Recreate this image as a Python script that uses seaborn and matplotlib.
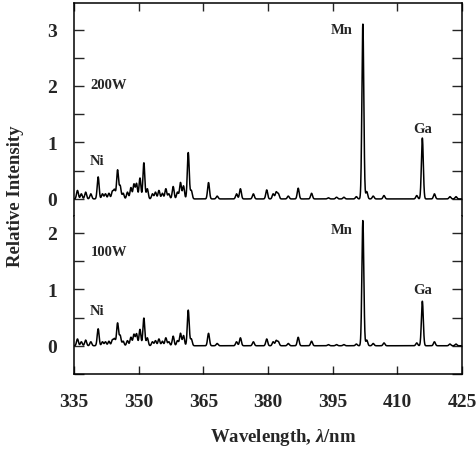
import numpy as np
import pandas as pd
import matplotlib
matplotlib.use("Agg")
import matplotlib.pyplot as plt
from matplotlib.ticker import MultipleLocator
import seaborn as sns

# emission lines (nm) and their relative heights
lines_nm = [335.8, 336.7, 337.7, 338.9, 340.6, 341.6, 342.3, 343.1, 343.9, 344.4,
            345.1, 345.7, 346.4, 347.4, 348.2, 348.9, 349.5, 350.3, 351.2, 352.0,
            353.2, 353.9, 354.7, 355.5, 356.3, 357.0, 358.0, 359.0, 359.7, 360.4,
            361.5, 362.2, 366.2, 368.2, 372.7, 373.6, 376.6, 379.7, 381.2, 381.9,
            382.4, 384.7, 387.0, 390.1, 394.0, 395.9, 397.6, 400.5, 402.0, 402.9,
            404.4, 406.9, 414.5, 415.8, 418.6, 422.2, 423.6]

heights_200w = [0.15, 0.09, 0.12, 0.09, 0.39, 0.09, 0.09, 0.10, 0.13, 0.16,
                0.51, 0.23, 0.10, 0.12, 0.20, 0.26, 0.27, 0.37, 0.64, 0.18,
                0.09, 0.12, 0.15, 0.10, 0.18, 0.09, 0.22, 0.12, 0.29, 0.23,
                0.82, 0.15, 0.29, 0.05, 0.09, 0.18, 0.09, 0.16, 0.09, 0.12,
                0.09, 0.05, 0.19, 0.10, 0.02, 0.03, 0.03, 0.04, 3.10, 0.13,
                0.05, 0.06, 0.06, 1.08, 0.09, 0.04, 0.04]

heights_100w = [0.12, 0.07, 0.10, 0.07, 0.30, 0.07, 0.07, 0.08, 0.10, 0.12,
                0.40, 0.18, 0.08, 0.09, 0.15, 0.20, 0.21, 0.29, 0.49, 0.14,
                0.07, 0.09, 0.12, 0.08, 0.14, 0.07, 0.17, 0.09, 0.22, 0.18,
                0.63, 0.12, 0.22, 0.04, 0.07, 0.14, 0.07, 0.12, 0.07, 0.09,
                0.07, 0.04, 0.15, 0.08, 0.02, 0.02, 0.02, 0.03, 2.22, 0.10,
                0.04, 0.05, 0.05, 0.79, 0.07, 0.03, 0.03]

x_ticks = [335, 350, 365, 380, 395, 410, 425]


def spectrum(heights, width=0.22):
    wl = np.linspace(335, 425, 3000)
    y = np.zeros_like(wl)
    for c, h in zip(lines_nm, heights):
        y += h * np.exp(-0.5 * ((wl - c) / width) ** 2)
    return pd.DataFrame({"wl": wl, "I": y})


sns.set_style("ticks")
plt.rcParams["font.family"] = ["Liberation Serif", "DejaVu Serif"]
plt.rcParams["font.weight"] = "bold"
plt.rcParams["mathtext.fontset"] = "custom"
plt.rcParams["mathtext.it"] = "Liberation Serif:italic:bold"
plt.rcParams["mathtext.rm"] = "Liberation Serif:bold"

fig = plt.figure(figsize=(4.76, 4.52), dpi=100)
gs = fig.add_gridspec(2, 1, height_ratios=[3.77, 2.8], hspace=0,
                      left=0.1555, right=0.9706, bottom=0.1704, top=0.9912)
ax1 = fig.add_subplot(gs[0])
ax2 = fig.add_subplot(gs[1], sharex=ax1)

sns.lineplot(data=spectrum(heights_200w), x="wl", y="I", ax=ax1,
             color="black", lw=1.1)
sns.lineplot(data=spectrum(heights_100w), x="wl", y="I", ax=ax2,
             color="black", lw=1.1)

ax1.set_ylim(-0.3, 3.47)
ax2.set_ylim(-0.5, 2.3)
ax1.set_xlim(335, 425)

for ax in (ax1, ax2):
    ax.set_xlabel("")
    ax.set_ylabel("")
    ax.yaxis.set_major_locator(MultipleLocator(1))
    ax.yaxis.set_minor_locator(MultipleLocator(0.5))
    ax.tick_params(axis="both", which="both", direction="in",
                   left=True, right=True, top=True, bottom=True,
                   labelsize=14, width=1.0)
    ax.tick_params(axis="y", which="both", length=7, pad=12)
    for s in ax.spines.values():
        s.set_linewidth(1.1)
        s.set_color("black")

ax1.spines["bottom"].set_visible(False)
ax2.spines["top"].set_visible(False)
ax1.tick_params(axis="x", which="both", bottom=False, labelbottom=False, length=6)
ax2.tick_params(axis="x", which="both", top=False, length=6, pad=14)
ax1.set_yticks([0, 1, 2, 3])
ax2.set_yticks([0, 1, 2])
ax2.set_xticks(x_ticks)

tk = dict(fontsize=10.5, fontweight="bold")
ax1.text(338.8, 2.03, "200W", va="center", ha="left", **tk)
ax1.text(338.6, 0.68, "Ni", va="center", ha="left", **tk)
ax1.text(399.6, 3.0, "Mn", va="center", ha="right", **tk)
ax1.text(415.8, 1.24, "Ga", va="center", ha="center", **tk)
ax2.text(338.8, 1.67, "100W", va="center", ha="left", **tk)
ax2.text(338.6, 0.63, "Ni", va="center", ha="left", **tk)
ax2.text(399.6, 2.05, "Mn", va="center", ha="right", **tk)
ax2.text(415.8, 1.0, "Ga", va="center", ha="center", **tk)

fig.text(0.032, 0.565, "Relative Intensity", rotation=90, va="center",
         ha="center", fontsize=13.5, fontweight="bold")
fig.text(0.594, 0.033, r"Wavelength, $\lambda$/nm", va="center",
         ha="center", fontsize=13.5, fontweight="bold")

fig.savefig("out.png", dpi=100)
